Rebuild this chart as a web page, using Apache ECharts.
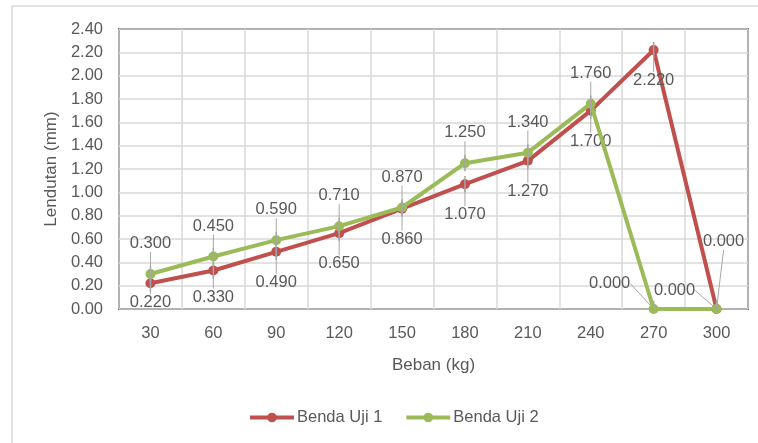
<!DOCTYPE html>
<html><head><meta charset="utf-8">
<script src="https://cdn.jsdelivr.net/npm/echarts@6/dist/echarts.min.js"></script>
<style>html,body{margin:0;padding:0;background:#fff}#c{width:758px;height:443px}</style>
</head><body><div id="c"></div>
<script>
var categories = ['30','60','90','120','150','180','210','240','270','300'];
var benda1 = [0.22,0.33,0.49,0.65,0.86,1.07,1.27,1.70,2.22,0.00];
var benda2 = [0.30,0.45,0.59,0.71,0.87,1.25,1.34,1.76,0.00,0.00];
var errAmount = 0.07;
var FONT = 'Liberation Sans';
var TXT = '#595959';
var FS = 16.5;
var chart = echarts.init(document.getElementById('c'));
function errSeries(vals){
  return {
    type:'custom', z:10, silent:true,
    data: vals.map(function(v,i){return [i, v];}),
    renderItem:function(params, api){
      var i = api.value(0), v = api.value(1);
      var a = api.coord([i, v+errAmount]), b = api.coord([i, Math.max(0,v-errAmount)]);
      return {type:'line', shape:{x1:a[0],y1:a[1],x2:b[0],y2:b[1]}, style:{stroke:'#a6a6a6', lineWidth:1.5}};
    }
  };
}
var labelStyle = {show:true, fontFamily:FONT, fontSize:FS, color:TXT, distance:17,
  formatter:function(p){return Number(p.value).toFixed(3);}};
chart.setOption({
  animation:false,
  textStyle:{fontFamily:FONT},
  graphic:[{type:'rect', shape:{x:12,y:6,width:800,height:500}, style:{fill:null, stroke:'#d9d9d9', lineWidth:1.5}, silent:true}],
  grid:{left:119, top:29, right:10, bottom:134, show:true, borderColor:'#000', borderWidth:1.5},
  legend:{bottom:12, left:243, itemWidth:44, itemHeight:12, itemGap:22,
    lineStyle:{width:4},
    textStyle:{fontFamily:FONT, fontSize:FS, color:TXT, padding:[0,0,0,-2]},
    data:['Benda Uji 1','Benda Uji 2']},
  xAxis:{type:'category', data:categories, boundaryGap:true,
    name:'Beban (kg)', nameLocation:'middle', nameGap:48,
    nameTextStyle:{fontFamily:FONT, fontSize:17, color:TXT},
    axisLine:{show:false}, axisTick:{show:false},
    axisLabel:{fontFamily:FONT, fontSize:FS, color:TXT, margin:16},
    splitLine:{show:true, lineStyle:{color:'#d9d9d9', width:1.5}}},
  yAxis:{type:'value', min:0, max:2.4, interval:0.2,
    name:'Lendutan (mm)', nameLocation:'middle', nameGap:52,
    nameTextStyle:{fontFamily:FONT, fontSize:17, color:TXT},
    axisLine:{show:false}, axisTick:{show:false},
    axisLabel:{fontFamily:FONT, fontSize:FS, color:TXT, margin:16, formatter:function(v){return v.toFixed(2);}},
    splitLine:{show:true, lineStyle:{color:'#d9d9d9', width:1.5}}},
  series:[
    {name:'Benda Uji 1', type:'line', data:benda1, symbol:'circle', symbolSize:10,
     lineStyle:{width:4, color:'#C0504D'}, itemStyle:{color:'#C0504D'}, z:3,
     label:Object.assign({}, labelStyle, {position:'bottom'}),
     labelLine:{show:true, lineStyle:{color:'#a6a6a6', width:1}},
     labelLayout:function(p){
       if(p.dataIndex===0) return {dy:-11};
       if(p.dataIndex===1) return {dy:-4};
       if(p.dataIndex===9) return {dx:7, dy:-98};
       return {};
     }},
    {name:'Benda Uji 2', type:'line', data:benda2, symbol:'circle', symbolSize:10,
     lineStyle:{width:4, color:'#9BBB59'}, itemStyle:{color:'#9BBB59'}, z:4,
     label:Object.assign({}, labelStyle, {position:'top'}),
     labelLine:{show:true, lineStyle:{color:'#a6a6a6', width:1}},
     labelLayout:function(p){
       if(p.dataIndex===8) return {dx:-44, dy:5};
       if(p.dataIndex===9) return {dx:-42, dy:12};
       return {};
     }},
    errSeries(benda1), errSeries(benda2)
  ]
});
</script></body></html>
